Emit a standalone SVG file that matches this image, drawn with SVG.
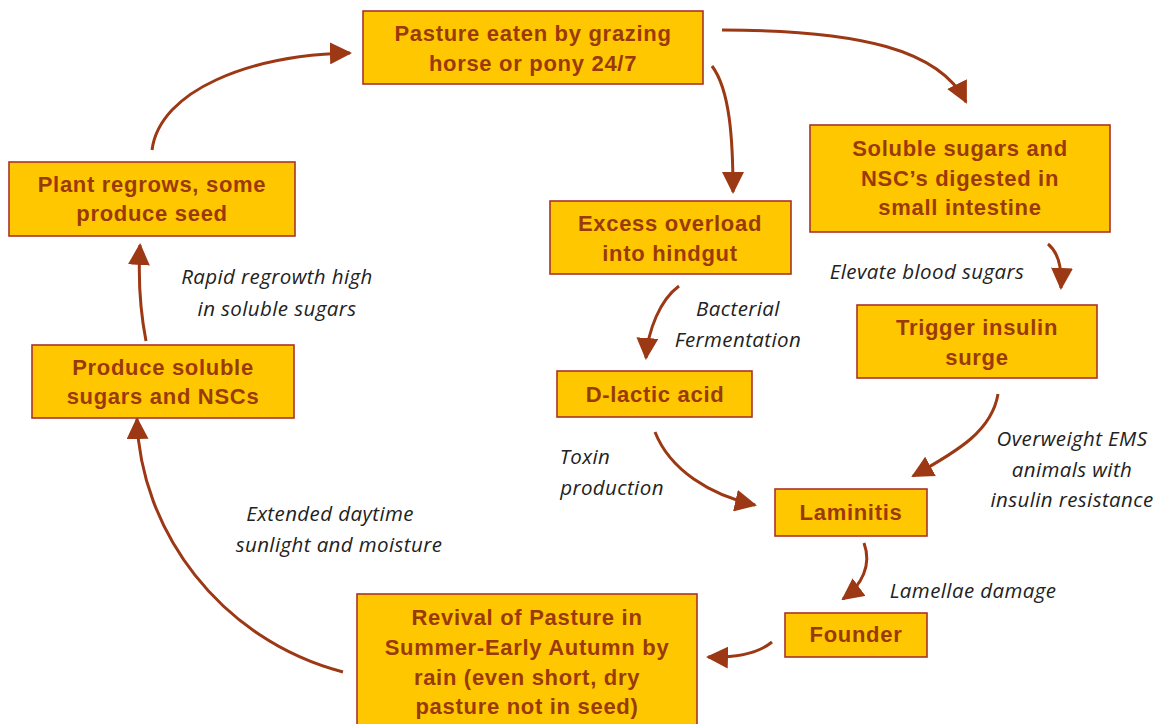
<svg xmlns="http://www.w3.org/2000/svg" width="1160" height="724" viewBox="0 0 1160 724">
<style>
.box{fill:#FFC700;stroke:#A8342A;stroke-width:1.6}
.t{font-family:"Liberation Sans",Arial,sans-serif;font-weight:bold;font-size:22px;letter-spacing:0.7px;fill:#9A3A0B;text-anchor:middle}
.l{font-family:"Open Sans","DejaVu Sans",sans-serif;font-style:italic;font-size:20.5px;letter-spacing:0.4px;fill:#222;text-anchor:middle}
.c{fill:none;stroke:#9C3814;stroke-width:3}
</style>
<defs>
<marker id="ah" markerUnits="userSpaceOnUse" viewBox="0 0 22 22" refX="20" refY="11" markerWidth="22" markerHeight="22" orient="auto">
<path d="M0,0 L22,11 L0,22 z" fill="#9C3814"/>
</marker>
</defs>
<rect width="1160" height="724" fill="#fff"/>
<g id="connectors">
<path class="c" marker-end="url(#ah)" d="M722,30 C860,30 940,50 966,102"/>
<path class="c" marker-end="url(#ah)" d="M712,66 C730,90 733,140 733,192"/>
<path class="c" marker-end="url(#ah)" d="M679,286 C660,300 648,330 646,358"/>
<path class="c" marker-end="url(#ah)" d="M1048,244 C1058,252 1062,268 1061,288"/>
<path class="c" marker-end="url(#ah)" d="M998,394 C992,430 960,450 913,476"/>
<path class="c" marker-end="url(#ah)" d="M655,432 C670,470 710,495 755,505"/>
<path class="c" marker-end="url(#ah)" d="M864,543 C872,565 862,585 843,599"/>
<path class="c" marker-end="url(#ah)" d="M772,642 C760,652 740,658 708,657"/>
<path class="c" marker-end="url(#ah)" d="M343,672 C220,640 140,530 137,419"/>
<path class="c" marker-end="url(#ah)" d="M146,341 C140,310 138,280 140,245"/>
<path class="c" marker-end="url(#ah)" d="M152,150 C160,90 250,55 350,53"/>
</g>
<g id="labels">
<text class="l" x="738" y="316">Bacterial</text>
<text class="l" x="738" y="347">Fermentation</text>
<text class="l" x="927" y="279">Elevate blood sugars</text>
<text class="l" x="585" y="464">Toxin</text>
<text class="l" x="612" y="495">production</text>
<text class="l" x="1072" y="446">Overweight EMS</text>
<text class="l" x="1072" y="477">animals with</text>
<text class="l" x="1072" y="507">insulin resistance</text>
<text class="l" x="973" y="598">Lamellae damage</text>
<text class="l" x="277" y="284">Rapid regrowth high</text>
<text class="l" x="277" y="316">in soluble sugars</text>
<text class="l" x="330" y="521">Extended daytime</text>
<text class="l" x="339" y="552">sunlight and moisture</text>
</g>
<g id="n-pasture"><rect class="box" x="363" y="11" width="340" height="73"/><text class="t" x="533" y="41">Pasture eaten by grazing</text><text class="t" x="533" y="71">horse or pony 24/7</text></g>
<g id="n-soluble"><rect class="box" x="810" y="125" width="300" height="107"/><text class="t" x="960" y="156">Soluble sugars and</text><text class="t" x="960" y="186">NSC’s digested in</text><text class="t" x="960" y="215">small intestine</text></g>
<g id="n-trigger"><rect class="box" x="857" y="305" width="240" height="73"/><text class="t" x="977" y="335">Trigger insulin</text><text class="t" x="977" y="365">surge</text></g>
<g id="n-excess"><rect class="box" x="550" y="201" width="241" height="73"/><text class="t" x="670" y="231">Excess overload</text><text class="t" x="670" y="261">into hindgut</text></g>
<g id="n-dlactic"><rect class="box" x="557" y="371" width="195" height="46"/><text class="t" x="655" y="402">D-lactic acid</text></g>
<g id="n-laminitis"><rect class="box" x="775" y="489" width="152" height="47"/><text class="t" x="851" y="520">Laminitis</text></g>
<g id="n-founder"><rect class="box" x="785" y="613" width="142" height="44"/><text class="t" x="856" y="642">Founder</text></g>
<g id="n-revival"><rect class="box" x="357" y="594" width="340" height="150"/><text class="t" x="527" y="625">Revival of Pasture in</text><text class="t" x="527" y="655">Summer-Early Autumn by</text><text class="t" x="527" y="685">rain (even short, dry</text><text class="t" x="527" y="714">pasture not in seed)</text></g>
<g id="n-produce"><rect class="box" x="32" y="345" width="262" height="73"/><text class="t" x="163" y="375">Produce soluble</text><text class="t" x="163" y="404">sugars and NSCs</text></g>
<g id="n-plant"><rect class="box" x="9" y="162" width="286" height="74"/><text class="t" x="152" y="192">Plant regrows, some</text><text class="t" x="152" y="221">produce seed</text></g>
</svg>
